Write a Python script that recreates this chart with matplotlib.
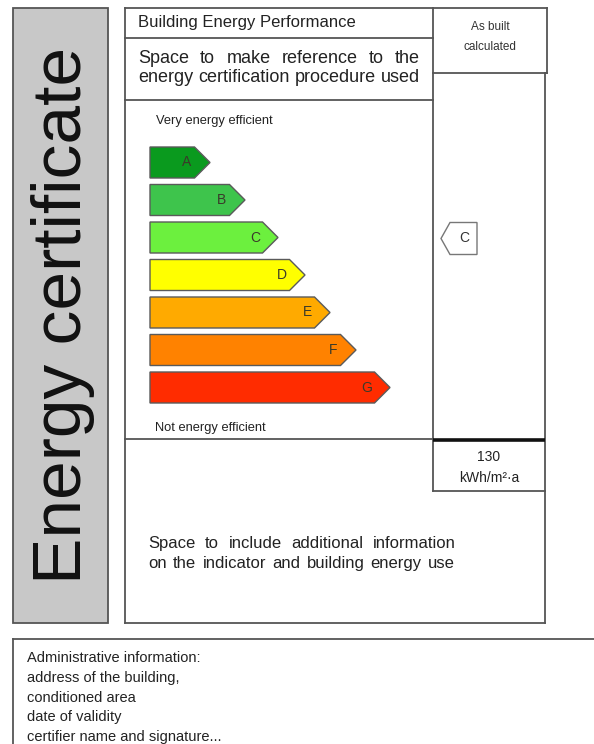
import matplotlib
matplotlib.use("Agg")
import matplotlib.pyplot as plt
from matplotlib.patches import Polygon, Rectangle

plt.rcParams['font.family'] = ['Liberation Sans', 'DejaVu Sans']

# %% Data
classes = ['A', 'B', 'C', 'D', 'E', 'F', 'G']
class_colors = ['#0a9a1e', '#3ec44c', '#6cf03e', '#ffff00', '#ffaa00', '#ff8200', '#ff2c00']
bar_lengths = [60, 95, 128, 155, 180, 206, 240]   # px, base to tip
rating = 'C'
energy_value = 130
energy_unit = 'kWh/m²·a'
title_top = 'Building Energy Performance'
ref_lines = ['Space to make reference to the', 'energy certification procedure used']
info_lines = ['Space to include additional information', 'on the indicator and building energy use']
admin_lines = ['Administrative information:', 'address of the building,', 'conditioned area',
               'date of validity', 'certifier name and signature...']

# %% Figure in pixel coordinates
fig = plt.figure(figsize=(5.94, 7.44), dpi=100)
ax = fig.add_axes([0, 0, 1, 1])
ax.set_xlim(0, 594)
ax.set_ylim(744, 0)
ax.axis('off')

edge = '#555555'
lw = 1.3


def line(x0, y0, x1, y1, c=edge, w=lw, cap='projecting'):
    ax.plot([x0, x1], [y0, y1], color=c, lw=w, solid_capstyle=cap)


def justify(words, x0, x1, y, fs):
    # y is the baseline
    words = words.split()
    texts = [ax.text(0, y, w, fontsize=fs, va='baseline', ha='left', color='#222222') for w in words]
    r = fig.canvas.get_renderer()
    widths = [t.get_window_extent(r).width for t in texts]
    gap = (x1 - x0 - sum(widths)) / (len(words) - 1)
    x = x0
    for t, w in zip(texts, widths):
        t.set_x(x)
        x += w + gap


# grey side panel
ax.add_patch(Rectangle((13, 7.5), 95, 615.5, facecolor='#c8c8c8', edgecolor=edge, lw=lw))
ax.text(81, 315, 'Energy certificate', fontsize=50, rotation=90, rotation_mode='anchor',
        ha='center', va='baseline', color='#111111')

# main frame
line(125, 7.5, 547, 7.5)
line(547, 7.5, 547, 73)
line(433, 73, 547, 73)
line(545, 73, 545, 623)
line(125, 7.5, 125, 623)
line(125, 623, 545, 623)
line(433, 7.5, 433, 491)
line(125, 37.5, 433, 37.5)
line(125, 99.5, 433, 99.5)
line(125, 439, 433, 439)
line(433, 440, 545, 440, c='#111111', w=2.6, cap='butt')
line(433, 491, 545, 491)

ax.text(138, 23, title_top, fontsize=12, va='center', ha='left', color='#222222')
ax.text(490, 27, 'As built', fontsize=8.5, va='center', ha='center', color='#333333')
ax.text(490, 47, 'calculated', fontsize=8.5, va='center', ha='center', color='#333333')

justify(ref_lines[0], 138, 420, 63, 13)
justify(ref_lines[1], 138, 420, 82, 13)

# energy classes
ax.text(156, 121, 'Very energy efficient', fontsize=9.3, va='center', ha='left', color='#222222')
ax.text(155, 428, 'Not energy efficient', fontsize=9.3, va='center', ha='left', color='#222222')

x0 = 150
h = 31
for i, (cl, col, ln) in enumerate(zip(classes, class_colors, bar_lengths)):
    top = 147 + 37.5 * i
    mid = top + h / 2
    tip = x0 + ln
    pts = [(x0, top), (tip - h / 2, top), (tip, mid), (tip - h / 2, top + h), (x0, top + h)]
    ax.add_patch(Polygon(pts, closed=True, facecolor=col, edgecolor='#5a5a5a', lw=1))
    ax.text(tip - 23, mid, cl, fontsize=10, ha='center', va='center', color='#3a3a2a')

# rating marker
ri = classes.index(rating)
my = 147 + 37.5 * ri + h / 2 + 1
mpts = [(441, my), (450, my - 16), (477, my - 16), (477, my + 16), (450, my + 16)]
ax.add_patch(Polygon(mpts, closed=True, facecolor='white', edgecolor='#777777', lw=1))
ax.text(464, my, rating, fontsize=10, ha='center', va='center', color='#333333')

# indicator value
ax.text(489, 457, str(energy_value), fontsize=10, ha='center', va='center', color='#222222')
ax.text(489, 478, energy_unit, fontsize=10, ha='center', va='center', color='#222222')

justify(info_lines[0], 148, 456, 548, 12)
justify(info_lines[1], 148, 455, 568, 12)

# administrative box
line(13, 639, 600, 639)
line(13, 639, 13, 750)
for i, s in enumerate(admin_lines):
    ax.text(27, 658 + 19.8 * i, s, fontsize=10.5, ha='left', va='center', color='#222222')

fig.savefig('out.png', dpi=100)
